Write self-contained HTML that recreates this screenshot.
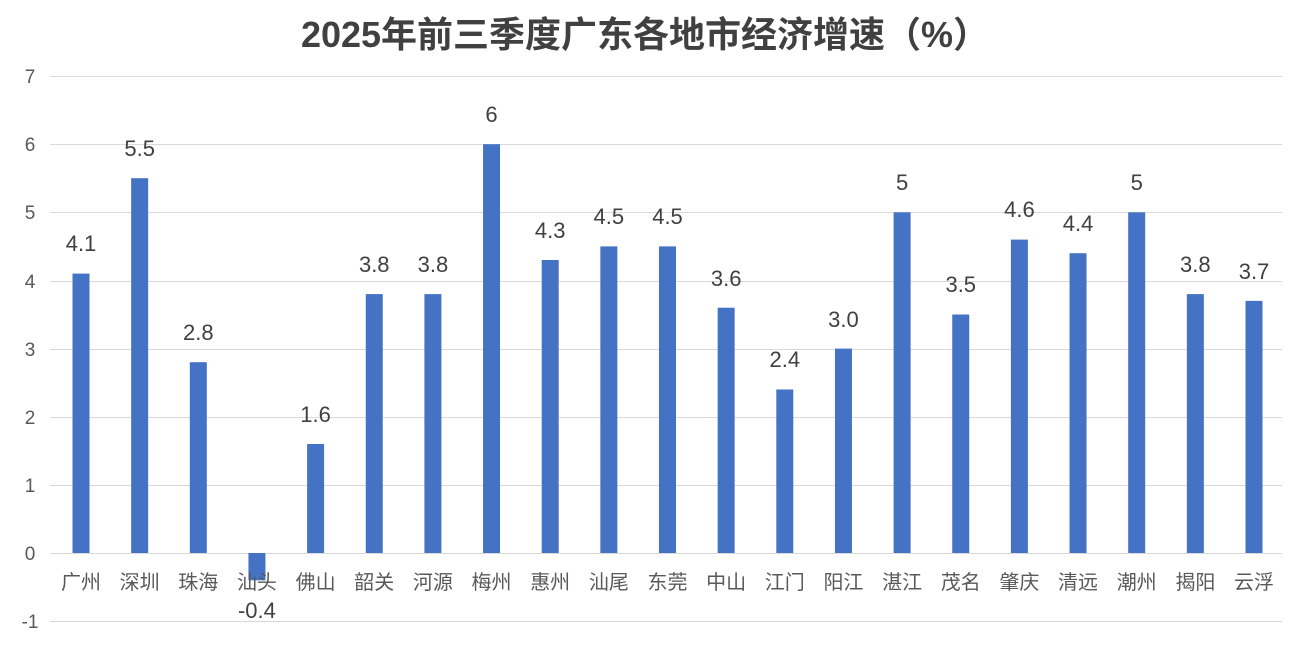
<!DOCTYPE html>
<html><head><meta charset="utf-8"><style>
body{margin:0;background:#fff;}
svg{display:block;font-family:"Liberation Sans","Noto Sans CJK SC",sans-serif;}
</style></head><body>
<svg width="1308" height="656" xmlns="http://www.w3.org/2000/svg">
<rect width="1308" height="656" fill="#fff"/>
<text x="645" y="47" text-anchor="middle" font-size="36" font-weight="bold" fill="#404040">2025年前三季度广东各地市经济增速（%）</text>
<g stroke="#d9d9d9" stroke-width="1">
<line x1="50" x2="1282" y1="76.5" y2="76.5"/><line x1="50" x2="1282" y1="144.5" y2="144.5"/>
<line x1="50" x2="1282" y1="212.5" y2="212.5"/><line x1="50" x2="1282" y1="281.5" y2="281.5"/>
<line x1="50" x2="1282" y1="349.5" y2="349.5"/><line x1="50" x2="1282" y1="417.5" y2="417.5"/>
<line x1="50" x2="1282" y1="485.5" y2="485.5"/><line x1="50" x2="1282" y1="553.5" y2="553.5"/>
<line x1="50" x2="1282" y1="621.5" y2="621.5"/>
</g>
<g font-size="19" fill="#595959" text-anchor="middle">
<text x="30" y="83">7</text><text x="30" y="151">6</text><text x="30" y="219">5</text><text x="30" y="288">4</text>
<text x="30" y="356">3</text><text x="30" y="424">2</text><text x="30" y="492">1</text><text x="30" y="560">0</text><text x="30" y="628">-1</text>
</g>
<g fill="#4472C4">
<rect x="72.5" y="273.6" width="17" height="279.4"/>
<rect x="131.15" y="178.2" width="17" height="374.8"/>
<rect x="189.8" y="362.2" width="17" height="190.8"/>
<rect x="248.45" y="553" width="17" height="27.3"/>
<rect x="307.1" y="444" width="17" height="109"/>
<rect x="365.75" y="294.1" width="17" height="258.9"/>
<rect x="424.4" y="294.1" width="17" height="258.9"/>
<rect x="483.05" y="144.2" width="17" height="408.8"/>
<rect x="541.7" y="260" width="17" height="293"/>
<rect x="600.35" y="246.4" width="17" height="306.6"/>
<rect x="659" y="246.4" width="17" height="306.6"/>
<rect x="717.65" y="307.7" width="17" height="245.3"/>
<rect x="776.3" y="389.5" width="17" height="163.5"/>
<rect x="834.95" y="348.6" width="17" height="204.4"/>
<rect x="893.6" y="212.3" width="17" height="340.7"/>
<rect x="952.25" y="314.5" width="17" height="238.5"/>
<rect x="1010.9" y="239.6" width="17" height="313.4"/>
<rect x="1069.55" y="253.2" width="17" height="299.8"/>
<rect x="1128.2" y="212.3" width="17" height="340.7"/>
<rect x="1186.85" y="294.1" width="17" height="258.9"/>
<rect x="1245.5" y="300.9" width="17" height="252.1"/>
</g>
<g font-size="22" fill="#404040" text-anchor="middle">
<text x="81" y="251">4.1</text>
<text x="139.65" y="156">5.5</text>
<text x="198.3" y="340">2.8</text>
<text x="256.95" y="618">-0.4</text>
<text x="315.6" y="422">1.6</text>
<text x="374.25" y="272">3.8</text>
<text x="432.9" y="272">3.8</text>
<text x="491.55" y="122">6</text>
<text x="550.2" y="238">4.3</text>
<text x="608.85" y="224">4.5</text>
<text x="667.5" y="224">4.5</text>
<text x="726.15" y="286">3.6</text>
<text x="784.8" y="367">2.4</text>
<text x="843.45" y="327">3.0</text>
<text x="902.1" y="190">5</text>
<text x="960.75" y="292">3.5</text>
<text x="1019.4" y="217">4.6</text>
<text x="1078.05" y="231">4.4</text>
<text x="1136.7" y="190">5</text>
<text x="1195.35" y="272">3.8</text>
<text x="1254" y="279">3.7</text>
</g>
<g font-size="20" fill="#595959" text-anchor="middle">
<text x="81" y="589">广州</text><text x="139.65" y="589">深圳</text><text x="198.3" y="589">珠海</text>
<text x="256.95" y="589">汕头</text><text x="315.6" y="589">佛山</text><text x="374.25" y="589">韶关</text>
<text x="432.9" y="589">河源</text><text x="491.55" y="589">梅州</text><text x="550.2" y="589">惠州</text>
<text x="608.85" y="589">汕尾</text><text x="667.5" y="589">东莞</text><text x="726.15" y="589">中山</text>
<text x="784.8" y="589">江门</text><text x="843.45" y="589">阳江</text><text x="902.1" y="589">湛江</text>
<text x="960.75" y="589">茂名</text><text x="1019.4" y="589">肇庆</text><text x="1078.05" y="589">清远</text>
<text x="1136.7" y="589">潮州</text><text x="1195.35" y="589">揭阳</text><text x="1254" y="589">云浮</text>
</g>
</svg>
</body></html>
